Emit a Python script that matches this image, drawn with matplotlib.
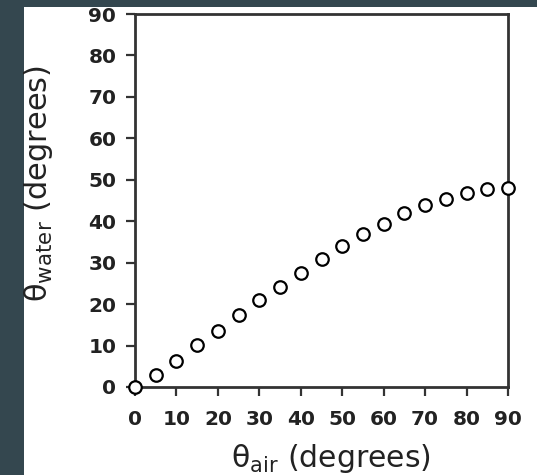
import numpy as np
import matplotlib
matplotlib.use("Agg")
import matplotlib.pyplot as plt
from matplotlib.patches import Rectangle

# angles
theta_air = [0, 5, 10, 15, 20, 25, 30, 35, 40, 45, 50, 55, 60, 65, 70, 75, 80, 85, 90]
theta_water = [0.0, 2.8, 6.3, 10.2, 13.6, 17.3, 21.0, 24.1, 27.5, 31.0,
               34.1, 36.9, 39.4, 41.9, 44.0, 45.3, 46.7, 47.7, 48.0]
ticks = [0, 10, 20, 30, 40, 50, 60, 70, 80, 90]

BG = "#34474f"
INK = "#222222"

fig = plt.figure(figsize=(5.37, 4.75), dpi=100, facecolor=BG)
fig.patches.append(Rectangle((24 / 537, 0), 1, 1 - 7 / 475, transform=fig.transFigure,
                             facecolor="white", edgecolor="none", zorder=-10))

ax = fig.add_axes([135 / 537, 1 - 387 / 475, 373 / 537, 373 / 475])
ax.plot(theta_air, theta_water, "o", ms=9, mfc="white", mec="black", mew=1.6,
        clip_on=False, zorder=5)

ax.set_xlim(0, 90)
ax.set_ylim(0, 90)
ax.set_xticks(ticks)
ax.set_yticks(ticks)
for s in ax.spines.values():
    s.set_linewidth(2)
    s.set_color("#333333")
ax.tick_params(length=6.5, width=1.6, color="#333333", labelsize=14.5, labelcolor=INK)
ax.tick_params(axis="x", pad=10)
ax.tick_params(axis="y", pad=7)
for lab in ax.get_xticklabels() + ax.get_yticklabels():
    lab.set_fontweight("bold")

ax.set_xlabel(r"θ$_{\mathrm{air}}$ (degrees)", fontsize=21.5, color=INK)
ax.set_ylabel(r"θ$_{\mathrm{water}}$ (degrees)", fontsize=22, color=INK)
ax.xaxis.set_label_coords(0.525, -0.148)
ax.yaxis.set_label_coords(-0.215, 0.545)

fig.savefig("out.png", dpi=100, facecolor=BG)
